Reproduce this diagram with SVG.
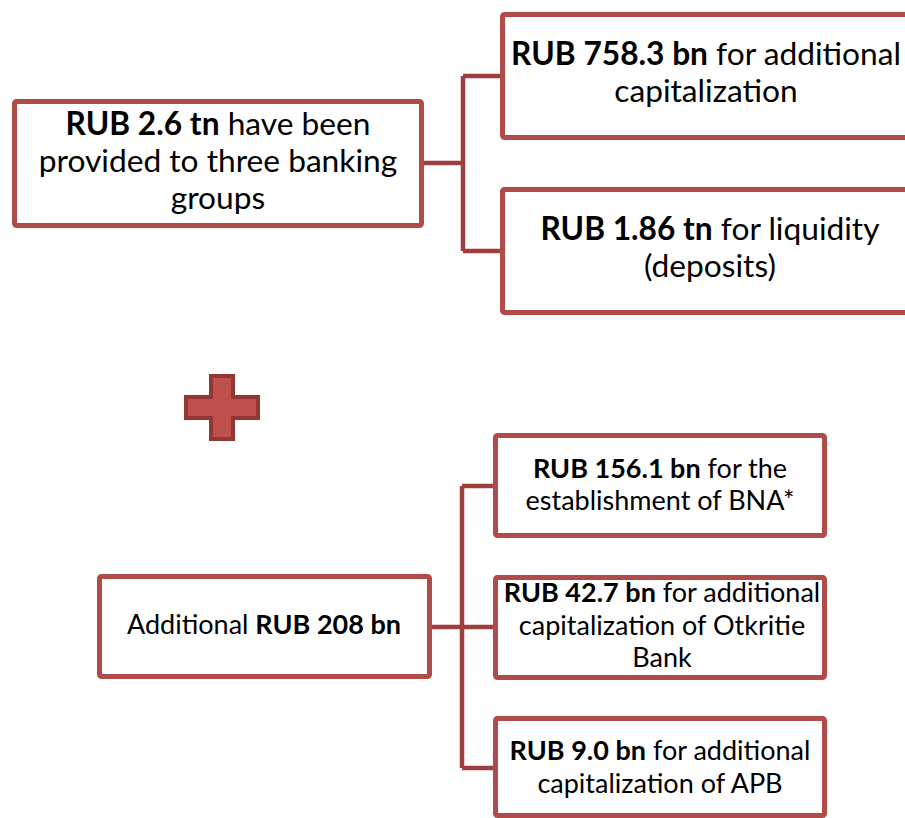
<svg xmlns="http://www.w3.org/2000/svg" width="905" height="818" viewBox="0 0 905 818">
<style>
.box{fill:#fff;stroke:#b14b49;stroke-width:5}
.con{fill:none;stroke:#9f3f3d;stroke-width:4.5;stroke-linejoin:round}
.t{font-family:Lato,"Liberation Sans",sans-serif;fill:#000;text-anchor:middle}
.L{font-size:31.7px}
.S{font-size:27px}
.b{font-weight:bold}
</style>
<rect width="905" height="818" fill="#fff"/>
<g id="connectors">
<path class="con" d="M424 163H463M463 76V251M463 76H502M463 251H502"/>
<path class="con" d="M432 627H493M462 486V768M462 486H493M462 768H493"/>
</g>
<g id="n1"><rect class="box" x="14.5" y="101.5" width="407" height="124" rx="2"/>
<text class="t L" x="218" y="135"><tspan class="b">RUB 2.6 tn</tspan> have been</text>
<text class="t L" x="218" y="172">provided to three banking</text>
<text class="t L" x="218" y="209">groups</text></g>
<g id="n2"><rect class="box" x="502.5" y="14.5" width="420" height="123" rx="2"/>
<text class="t L" x="706" y="65"><tspan class="b">RUB 758.3 bn</tspan> for additional</text>
<text class="t L" x="706" y="102">capitalization</text></g>
<g id="n3"><rect class="box" x="502.5" y="189.5" width="420" height="123" rx="2"/>
<text class="t L" x="710" y="240"><tspan class="b">RUB 1.86 tn</tspan> for liquidity</text>
<text class="t L" x="710" y="277">(deposits)</text></g>
<g id="plus"><path d="M211 376H233V397H258V418H233V439H211V418H186V397H211Z" fill="#c0504d" stroke="#943634" stroke-width="4"/></g>
<g id="n4"><rect class="box" x="99.5" y="576.5" width="330" height="100" rx="2"/>
<text class="t S" x="264" y="634">Additional <tspan class="b">RUB 208 bn</tspan></text></g>
<g id="n5"><rect class="box" x="495.5" y="435.5" width="329" height="100" rx="2"/>
<text class="t S" x="660" y="478"><tspan class="b">RUB 156.1 bn</tspan> for the</text>
<text class="t S" x="660" y="510">establishment of BNA*</text></g>
<g id="n6"><rect class="box" x="495.5" y="577.5" width="329" height="100" rx="2"/>
<text class="t S" x="662" y="602"><tspan class="b">RUB 42.7 bn</tspan> for additional</text>
<text class="t S" x="662" y="635">capitalization of Otkritie</text>
<text class="t S" x="662" y="667">Bank</text></g>
<g id="n7"><rect class="box" x="495.5" y="718.5" width="329" height="97" rx="2"/>
<text class="t S" x="660" y="760"><tspan class="b">RUB 9.0 bn</tspan> for additional</text>
<text class="t S" x="660" y="793">capitalization of APB</text></g>
</svg>
